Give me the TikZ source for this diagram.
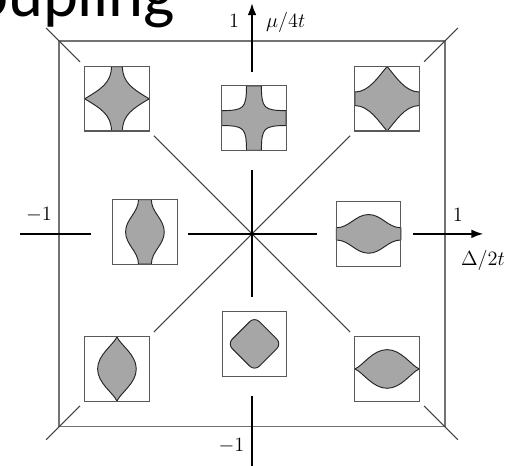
\documentclass[tikz,border=0pt]{standalone}
\usepackage{fix-cm}
\usepackage{fontspec}
\newfontfamily\titlefont{Carlito}
\usetikzlibrary{arrows.meta}
\begin{document}
\begin{tikzpicture}[x=5cm,y=5cm,
  frame/.style={draw=black!55,line width=0.9pt},
  diag/.style={draw=black!75,line width=0.8pt},
  axis/.style={draw=black,line width=1.6pt},
  inset/.style={draw=black!65,line width=0.8pt,minimum size=1.67cm,inner sep=0pt},
  inlay/.style={shift={#1},scale=0.167},
  fs/.style={fill=black!35,draw=black!85,line width=0.7pt},
  lbl/.style={font=\fontsize{15}{18}\selectfont,inner sep=0pt}]
\useasboundingbox (-1.306,-1.202) rectangle (1.368,1.212);

\node[font=\titlefont\fontsize{49}{58}\selectfont,anchor=base east,inner sep=0pt] (title) at (-0.399,1.124) {oupling};

\draw[frame] (-1,-1) rectangle (1,1);

% Fermi surfaces (local coordinates, box = [-1,1]^2)
\begin{scope}[inlay={(-0.7,0.7)}]
\filldraw[fs] (-0.17,1) -- (0.17,1) .. controls (0.17,0.5) and (0.5,0.3) .. (1,0)
  .. controls (0.5,-0.3) and (0.17,-0.5) .. (0.17,-1) -- (-0.17,-1)
  .. controls (-0.17,-0.5) and (-0.5,-0.3) .. (-1,0)
  .. controls (-0.5,0.3) and (-0.17,0.5) .. (-0.17,1) -- cycle;
\end{scope}
\begin{scope}[inlay={(0.01,0.6)}]
\filldraw[fs] (-0.23,1) -- (0.23,1) .. controls (0.24,0.3) and (0.3,0.24) .. (1,0.23)
  -- (1,-0.23) .. controls (0.3,-0.24) and (0.24,-0.3) .. (0.23,-1)
  -- (-0.23,-1) .. controls (-0.24,-0.3) and (-0.3,-0.24) .. (-1,-0.23)
  -- (-1,0.23) .. controls (-0.3,0.24) and (-0.24,0.3) .. (-0.23,1) -- cycle;
\end{scope}
\begin{scope}[inlay={(0.7,0.7)}]
\filldraw[fs] (0,1) .. controls (0.25,0.72) and (0.55,0.21) .. (1,0.21)
  -- (1,-0.21) .. controls (0.55,-0.21) and (0.25,-0.72) .. (0,-1)
  .. controls (-0.25,-0.72) and (-0.55,-0.21) .. (-1,-0.21)
  -- (-1,0.21) .. controls (-0.55,0.21) and (-0.25,0.72) .. (0,1) -- cycle;
\end{scope}
\begin{scope}[inlay={(-0.555,0.01)}]
\filldraw[fs] (-0.2,1) -- (0.2,1) .. controls (0.2,0.6) and (0.6,0.4) .. (0.6,0)
  .. controls (0.6,-0.4) and (0.2,-0.6) .. (0.2,-1) -- (-0.2,-1)
  .. controls (-0.2,-0.6) and (-0.6,-0.4) .. (-0.6,0)
  .. controls (-0.6,0.4) and (-0.2,0.6) .. (-0.2,1) -- cycle;
\end{scope}
\begin{scope}[inlay={(0.604,0)}]
\filldraw[fs] (1,0.19) -- (1,-0.19) .. controls (0.6,-0.19) and (0.4,-0.6) .. (0,-0.6)
  .. controls (-0.4,-0.6) and (-0.6,-0.19) .. (-1,-0.19) -- (-1,0.19)
  .. controls (-0.6,0.19) and (-0.4,0.6) .. (0,0.6)
  .. controls (0.4,0.6) and (0.6,0.19) .. (1,0.19) -- cycle;
\end{scope}
\begin{scope}[inlay={(-0.7,-0.7)}]
\filldraw[fs] (0,1) .. controls (0.1,0.75) and (0.6,0.45) .. (0.6,0)
  .. controls (0.6,-0.45) and (0.1,-0.75) .. (0,-1)
  .. controls (-0.1,-0.75) and (-0.6,-0.45) .. (-0.6,0)
  .. controls (-0.6,0.45) and (-0.1,0.75) .. (0,1) -- cycle;
\end{scope}
\begin{scope}[inlay={(0.013,-0.57)}]
\filldraw[fs,rounded corners=5pt] (0.84,0) -- (0,0.84) -- (-0.84,0) -- (0,-0.84) -- cycle;
\end{scope}
\begin{scope}[inlay={(0.7,-0.7)}]
\filldraw[fs] (1,0) .. controls (0.75,0.1) and (0.45,0.6) .. (0,0.6)
  .. controls (-0.45,0.6) and (-0.75,0.1) .. (-1,0)
  .. controls (-0.75,-0.1) and (-0.45,-0.6) .. (0,-0.6)
  .. controls (0.45,-0.6) and (0.75,-0.1) .. (1,0) -- cycle;
\end{scope}

\node[inset] (tl) at (-0.7,0.7) {};
\node[inset] (tc) at (0.01,0.6) {};
\node[inset] (tr) at (0.7,0.7) {};
\node[inset] (ml) at (-0.555,0.01) {};
\node[inset] (mr) at (0.604,0) {};
\node[inset] (bl) at (-0.7,-0.7) {};
\node[inset] (bc) at (0.013,-0.57) {};
\node[inset] (br) at (0.7,-0.7) {};

\coordinate (cnw) at (-1.067,1.067);
\coordinate (cne) at (1.067,1.067);
\coordinate (csw) at (-1.067,-1.067);
\coordinate (cse) at (1.067,-1.067);

% diagonals
\draw[diag,shorten >=4.4pt] (cnw) -- (tl.north west);
\draw[diag,shorten >=4.4pt] (cne) -- (tr.north east);
\draw[diag,shorten >=4.4pt] (csw) -- (bl.south west);
\draw[diag,shorten >=4.4pt] (cse) -- (br.south east);
\draw[diag,shorten <=4.4pt,shorten >=4.4pt] (tl.south east) -- (br.north west);
\draw[diag,shorten <=4.4pt,shorten >=4.4pt] (tr.south west) -- (bl.north east);

% axes
\draw[axis] (-1.2,0) -- (-0.835,0);
\draw[axis] (-0.332,0) -- (0.337,0);
\draw[axis,-{Latex[length=9pt,width=6.5pt]}] (0.835,0) -- (1.2,0);
\draw[axis,-{Latex[length=9pt,width=6.5pt]}] (0,0.839) -- (0,1.197);
\draw[axis] (0,0.332) -- (0,-0.326);
\draw[axis] (0,-0.839) -- (0,-1.25);
\fill (0,0) circle (1.3pt);

\node[lbl] (ytop) at (-0.093,1.104) {$1$};
\node[lbl,anchor=west] (ylab) at (0.072,1.098) {$\mu/4t$};
\node[lbl] (xleft) at (-1.104,0.098) {$-1$};
\node[lbl] (xright) at (1.067,0.098) {$1$};
\node[lbl] (xlab) at (1.197,-0.14) {$\Delta/2t$};
\node[lbl] (ybot) at (-0.106,-1.098) {$-1$};
\end{tikzpicture}
\end{document}
